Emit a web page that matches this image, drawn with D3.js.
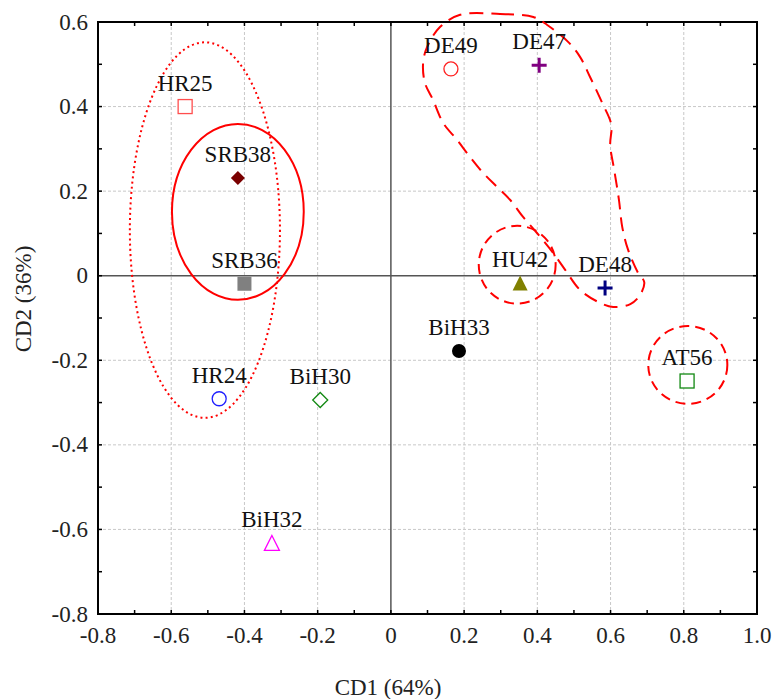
<!DOCTYPE html>
<html><head><meta charset="utf-8">
<script src="https://cdn.jsdelivr.net/npm/d3@7"></script>
<style>body{margin:0;background:#fff}text{font-family:"Liberation Serif","Times New Roman",serif}</style>
</head><body><svg id="c" width="772" height="699"></svg>
<script>
// ---- data ----
const labels = ["HR25","SRB38","SRB36","HR24","BiH30","BiH32","DE49","DE47","HU42","DE48","BiH33","AT56"];
const cd1 = [-0.562,-0.418,-0.400,-0.469,-0.193,-0.325,0.164,0.405,0.353,0.585,0.186,0.809];
const cd2 = [0.400,0.231,-0.019,-0.291,-0.294,-0.632,0.489,0.498,-0.017,-0.029,-0.178,-0.249];
const xTicks = [-0.8,-0.6,-0.4,-0.2,0,0.2,0.4,0.6,0.8,1.0];
const xTickLabels = ["-0.8","-0.6","-0.4","-0.2","0","0.2","0.4","0.6","0.8","1.0"];
const yTicks = [0.6,0.4,0.2,0,-0.2,-0.4,-0.6,-0.8];
const yTickLabels = ["0.6","0.4","0.2","0","-0.2","-0.4","-0.6","-0.8"];
// ellipses: centre x, centre y, radius x, radius y (data units)
const ellCx = [-0.508,-0.418,0.345,0.811];
const ellCy = [0.108,0.151,0.026,-0.211];
const ellRx = [0.205,0.180,0.105,0.108];
const ellRy = [0.444,0.208,0.092,0.092];
// DE group outline (data units)
const blobX = [0.189,0.298,0.389,0.427,0.484,0.517,0.544,0.577,0.602,0.599,0.610,0.623,0.632,0.648,0.675,0.692,0.681,0.654,0.607,0.566,0.517,0.476,0.443,0.399,0.361,0.326,0.290,0.252,0.216,0.181,0.143,0.115,0.093,0.088,0.099,0.134];
const blobY = [0.617,0.619,0.612,0.593,0.553,0.517,0.470,0.409,0.357,0.309,0.250,0.179,0.115,0.061,0.007,-0.015,-0.045,-0.067,-0.074,-0.062,-0.034,0.014,0.054,0.101,0.139,0.179,0.210,0.243,0.281,0.321,0.361,0.416,0.456,0.503,0.541,0.588];

// ---- styles ----
const markerStyle = {
  HR25:{shape:"square",fill:false,color:"#ff4d4d"},
  SRB38:{shape:"diamond",fill:true,color:"#7a0000"},
  SRB36:{shape:"square",fill:true,color:"#808080"},
  HR24:{shape:"circle",fill:false,color:"#1f1fff"},
  BiH30:{shape:"diamond",fill:false,color:"#118811"},
  BiH32:{shape:"triangle",fill:false,color:"#ff00ff"},
  DE49:{shape:"circle",fill:false,color:"#ff2020"},
  DE47:{shape:"plus",fill:false,color:"#800080"},
  HU42:{shape:"triangle",fill:true,color:"#808000"},
  DE48:{shape:"plus",fill:false,color:"#000080"},
  BiH33:{shape:"circle",fill:true,color:"#000000"},
  AT56:{shape:"square",fill:false,color:"#118811"}
};
const ellStyle = ["2,3.2","none","10,6","10,6"];

const svg = d3.select("#c");
const L=98,R=757,T=22,B=614;
const x = d3.scaleLinear().domain([-0.8,1.0]).range([L,R]);
const y = d3.scaleLinear().domain([-0.8,0.6]).range([B,T]);

// grid
const g = svg.append("g");
xTicks.forEach(v=>{ if(v!==0 && v>-0.8 && v<1.0) g.append("line").attr("x1",x(v)).attr("x2",x(v)).attr("y1",T).attr("y2",B).attr("stroke","#c8c8c8").attr("stroke-dasharray","3,2").attr("stroke-width",1);});
yTicks.forEach(v=>{ if(v!==0 && v>-0.8 && v<0.6) g.append("line").attr("x1",L).attr("x2",R).attr("y1",y(v)).attr("y2",y(v)).attr("stroke","#c8c8c8").attr("stroke-dasharray","3,2").attr("stroke-width",1);});
// zero lines
g.append("line").attr("x1",x(0)).attr("x2",x(0)).attr("y1",T).attr("y2",B).attr("stroke","#555").attr("stroke-width",1.5);
g.append("line").attr("x1",L).attr("x2",R).attr("y1",y(0)).attr("y2",y(0)).attr("stroke","#555").attr("stroke-width",1.5);

// minor+major inward ticks
const minorX = d3.range(-8,11).map(i=>i/10);
const minorY = d3.range(-8,7).map(i=>i/10);
const tk = svg.append("g").attr("stroke","#000").attr("stroke-width",1.5);
minorX.forEach(v=>{ tk.append("line").attr("x1",x(v)).attr("x2",x(v)).attr("y1",B).attr("y2",B-4);
  tk.append("line").attr("x1",x(v)).attr("x2",x(v)).attr("y1",T).attr("y2",T+4);});
minorY.forEach(v=>{ tk.append("line").attr("y1",y(v)).attr("y2",y(v)).attr("x1",L).attr("x2",L+4);
  tk.append("line").attr("y1",y(v)).attr("y2",y(v)).attr("x1",R).attr("x2",R-4);});

// frame
svg.append("rect").attr("x",L).attr("y",T).attr("width",R-L).attr("height",B-T).attr("fill","none").attr("stroke","#000").attr("stroke-width",2);

// tick labels
xTicks.forEach((v,i)=>svg.append("text").attr("x",x(v)).attr("y",B+29).attr("text-anchor","middle").attr("font-size",23).attr("fill","#222").text(xTickLabels[i]));
yTicks.forEach((v,i)=>svg.append("text").attr("x",L-10).attr("y",y(v)).attr("dy","0.33em").attr("text-anchor","end").attr("font-size",23).attr("fill","#222").text(yTickLabels[i]));

// axis titles
svg.append("text").attr("x",388).attr("y",695).attr("text-anchor","middle").attr("font-size",23).attr("fill","#222").text("CD1 (64%)");
svg.append("text").attr("transform","translate(31,299) rotate(-90)").attr("text-anchor","middle").attr("font-size",23).attr("fill","#222").text("CD2 (36%)");

// ellipses
const eg = svg.append("g");
ellCx.forEach((c,i)=>{
  eg.append("ellipse").attr("cx",x(c)).attr("cy",y(ellCy[i]))
    .attr("rx",x(c+ellRx[i])-x(c)).attr("ry",y(ellCy[i]-ellRy[i])-y(ellCy[i]))
    .attr("fill","none").attr("stroke","#ff0000").attr("stroke-width",2)
    .attr("stroke-dasharray",ellStyle[i]);
});
// blob
const blobPts = blobX.map((v,i)=>[x(v),y(blobY[i])]);
eg.append("path").attr("d",d3.line().curve(d3.curveCatmullRomClosed.alpha(0.5))(blobPts))
  .attr("fill","none").attr("stroke","#ff0000").attr("stroke-width",2).attr("stroke-dasharray","14,8");

// markers
const mg = svg.append("g");
labels.forEach((lab,i)=>{
  const st = markerStyle[lab];
  const px = x(cd1[i]), py = y(cd2[i]);
  const fill = st.fill? st.color : "#fff";
  const sw = st.fill? 0 : 1.3;
  let el;
  if(st.shape==="square"){
    const s = 7;
    el = mg.append("rect").attr("x",px-s).attr("y",py-s).attr("width",2*s).attr("height",2*s);
  } else if(st.shape==="circle"){
    el = mg.append("circle").attr("cx",px).attr("cy",py).attr("r",7);
  } else if(st.shape==="diamond"){
    const s = st.fill?7:7.5;
    el = mg.append("path").attr("d",`M${px},${py-s}L${px+s},${py}L${px},${py+s}L${px-s},${py}Z`);
  } else if(st.shape==="triangle"){
    const s = 7.5;
    el = mg.append("path").attr("d",`M${px},${py-s}L${px+s},${py+s}L${px-s},${py+s}Z`);
  } else if(st.shape==="plus"){
    el = mg.append("path").attr("d",`M${px-7.5},${py}H${px+7.5}M${px},${py-7.5}V${py+7.5}`)
      .attr("stroke-width",3);
  }
  if(st.shape==="plus"){ el.attr("fill","none").attr("stroke",st.color); }
  else el.attr("fill",fill).attr("stroke",st.color).attr("stroke-width",sw||0);
  mg.append("text").attr("x",px).attr("y",py-16).attr("text-anchor","middle").attr("font-size",23).attr("fill","#111").text(lab);
});
</script></body></html>
